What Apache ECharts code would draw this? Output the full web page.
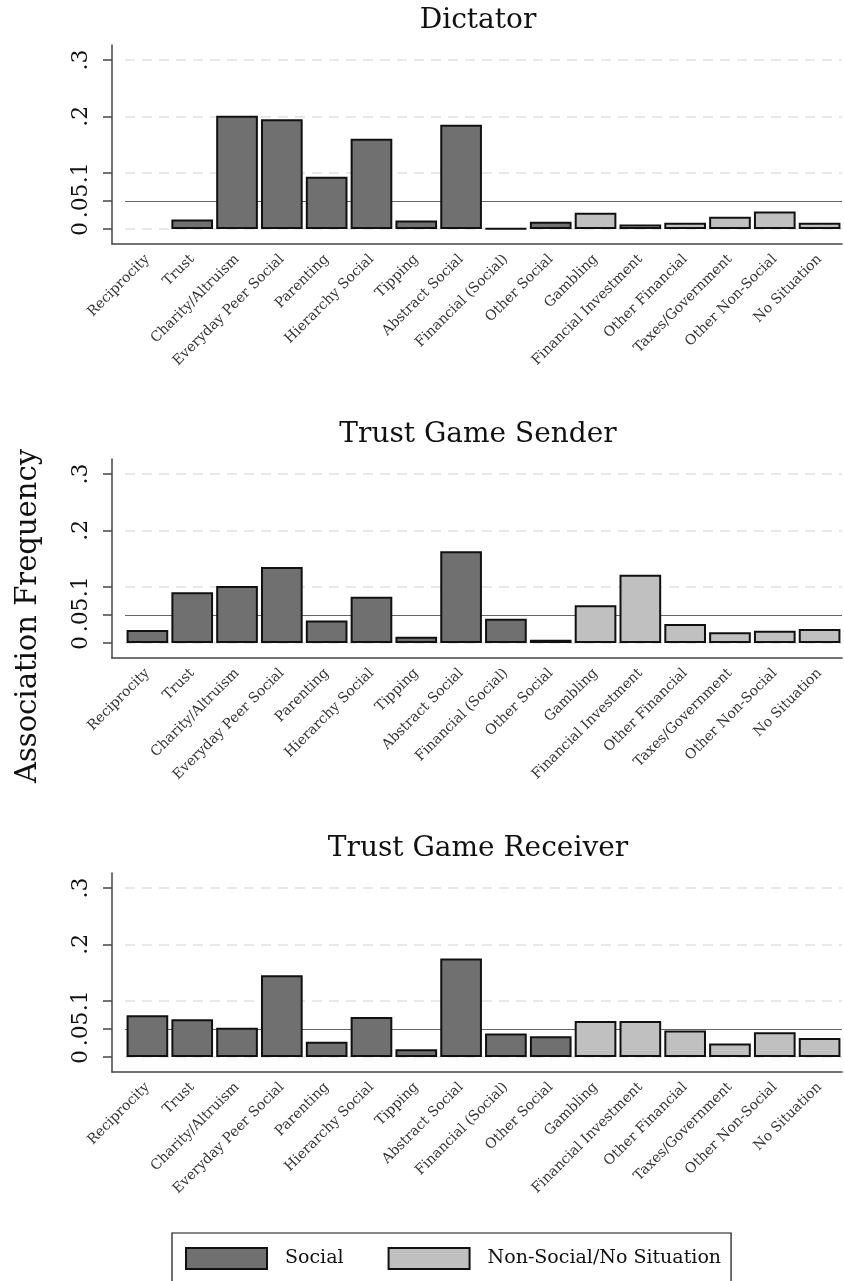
<!DOCTYPE html>
<html>
<head>
<meta charset="utf-8">
<script src="https://cdn.jsdelivr.net/npm/echarts@6/dist/echarts.min.js"></script>
<style>
  html, body { margin: 0; padding: 0; background: #fff; }
  #chart { width: 844px; height: 1281px; }
</style>
</head>
<body>
<div id="chart"></div>
<script>
// categories and values
const categories = ['Reciprocity', 'Trust', 'Charity/Altruism', 'Everyday Peer Social', 'Parenting',
    'Hierarchy Social', 'Tipping', 'Abstract Social', 'Financial (Social)', 'Other Social',
    'Gambling', 'Financial Investment', 'Other Financial', 'Taxes/Government', 'Other Non-Social', 'No Situation'];
const nbSocial = 10; // the first 10 categories are social

const panelTitles = ['Dictator', 'Trust Game Sender', 'Trust Game Receiver'];
const dictator = [0, 0.017, 0.201, 0.195, 0.093, 0.160, 0.015, 0.185, 0.001, 0.013, 0.029, 0.008, 0.011, 0.022, 0.031, 0.011];
const sender   = [0.023, 0.090, 0.101, 0.135, 0.040, 0.082, 0.011, 0.163, 0.043, 0.006, 0.067, 0.121, 0.034, 0.019, 0.022, 0.025];
const receiver = [0.074, 0.067, 0.052, 0.145, 0.027, 0.071, 0.014, 0.175, 0.042, 0.037, 0.064, 0.064, 0.047, 0.024, 0.044, 0.034];
const panelData = [dictator, sender, receiver];

const yTickValues = [0, 0.05, 0.1, 0.2, 0.3];
const yTickLabels = ['0', '.05', '.1', '.2', '.3'];
const gridValues = [0, 0.1, 0.2, 0.3];
const refLine = 0.05;

const serif = 'DejaVu Serif';
const panelTops = [45, 459, 873];

let chart;

window.onload = init;

function init() {
    chart = echarts.init(document.getElementById('chart'));

    let grids = [], xAxes = [], yAxes = [], series = [], titles = [];

    // main grids (bars)
    panelTops.forEach((top, i) => {
        grids.push({ left: 125, right: 2, top: top, height: 199 });
        titles.push({
            text: panelTitles[i],
            left: 478, top: top - 38, textAlign: 'center', padding: 0,
            textStyle: { fontFamily: serif, fontSize: 28, fontWeight: 'normal', color: '#111' }
        });
        xAxes.push({
            type: 'category', gridIndex: i, data: categories,
            axisLine: { show: false },
            axisTick: { alignWithLabel: true, length: 8, lineStyle: { color: '#333', width: 1.5 } },
            axisLabel: { interval: 0, rotate: 45, margin: 13, fontFamily: serif, fontSize: 14, color: '#333' }
        });
        yAxes.push({
            type: 'value', gridIndex: i, min: -0.0265, max: 0.3265, offset: 13,
            axisLine: { show: true, lineStyle: { color: '#444', width: 1.5 } },
            axisTick: { show: true, customValues: yTickValues, length: 9, lineStyle: { color: '#444', width: 1.5 } },
            axisLabel: {
                customValues: yTickValues, rotate: 90, margin: 20,
                fontFamily: serif, fontSize: 22, color: '#111',
                formatter: v => yTickLabels[yTickValues.indexOf(v)]
            },
            splitLine: { show: false }
        });
    });

    // extra grids only to draw the x axis line from the y axis to the right edge
    panelTops.forEach((top, i) => {
        grids.push({ left: 112, right: 2, top: top, height: 199 });
        xAxes.push({
            type: 'value', gridIndex: 3 + i, position: 'bottom',
            axisLine: { show: true, onZero: false, lineStyle: { color: '#444', width: 1.5 } },
            axisTick: { show: false }, axisLabel: { show: false }, splitLine: { show: false }
        });
        yAxes.push({ type: 'value', gridIndex: 3 + i, show: false });
    });

    let markLineData = gridValues.map(v => ({
        yAxis: v, lineStyle: { color: '#e2e2e2', type: [10, 7], width: 1.5 }
    }));
    markLineData.push({ yAxis: refLine, lineStyle: { color: '#666', type: 'solid', width: 1.2 } });

    panelData.forEach((vals, i) => {
        // zero bars are not drawn at all in the original
        let social = vals.map((v, k) => k < nbSocial && v !== 0 ? v : '-');
        let nonSocial = vals.map((v, k) => k >= nbSocial && v !== 0 ? v : '-');
        series.push({
            name: 'Social', type: 'bar', xAxisIndex: i, yAxisIndex: i,
            data: social, barGap: '-100%', barCategoryGap: '7%',
            itemStyle: { color: '#707070', borderColor: '#111', borderWidth: 2 },
            markLine: {
                silent: true, symbol: 'none', z: 1,
                label: { show: false },
                data: markLineData
            }
        });
        series.push({
            name: 'Non-Social/No Situation', type: 'bar', xAxisIndex: i, yAxisIndex: i,
            data: nonSocial, barGap: '-100%', barCategoryGap: '7%',
            itemStyle: { color: '#c0c0c0', borderColor: '#111', borderWidth: 2 }
        });
    });

    let options = {
        animation: false,
        backgroundColor: '#fff',
        title: titles,
        grid: grids,
        xAxis: xAxes,
        yAxis: yAxes,
        legend: {
            data: ['Social', 'Non-Social/No Situation'],
            left: 172, top: 1233,
            icon: 'rect', itemWidth: 81, itemHeight: 21, itemGap: 44,
            padding: [14, 10, 12, 13],
            borderColor: '#111', borderWidth: 1.2,
            textStyle: { fontFamily: serif, fontSize: 19, color: '#111', padding: [0, 0, 0, 13] }
        },
        graphic: [{
            type: 'text', x: 28, y: 616, rotation: Math.PI / 2,
            style: {
                text: 'Association Frequency', fontFamily: serif, fontSize: 29, fill: '#111',
                textAlign: 'center', textVerticalAlign: 'middle'
            }
        }],
        series: series
    };

    chart.setOption(options);
}
</script>
</body>
</html>
